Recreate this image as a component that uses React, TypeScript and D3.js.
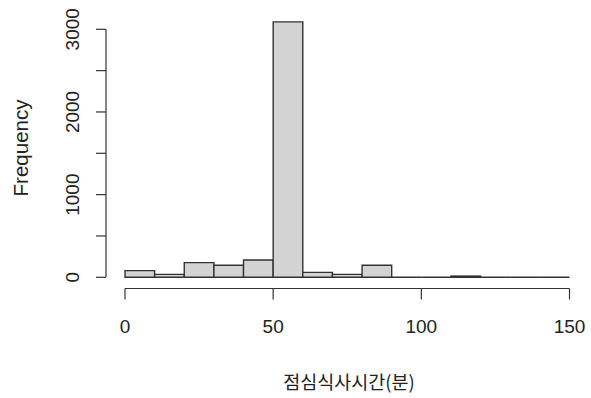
import React from "react";
import * as d3 from "d3";

const binEdges = [0, 10, 20, 30, 40, 50, 60, 70, 80, 90, 100, 110, 120, 130, 140, 150];
const counts = [81, 35, 177, 145, 209, 3090, 60, 35, 145, 0, 0, 15, 0, 0, 0];
const xTicks = [0, 50, 100, 150];
const yTicks = [0, 500, 1000, 1500, 2000, 2500, 3000];
const yLabels = [0, 1000, 2000, 3000];
const xTitle = "점심식사시간(분)";
const yTitle = "Frequency";

export default function App() {
  const W = 591, H = 398;
  const x = d3.scaleLinear().domain([0, 150]).range([125, 569.5]);
  const y = d3.scaleLinear().domain([0, 3000]).range([277.3, 29.3]);
  const axisY = 288.5;
  const axisX = 106;
  const font = "'Liberation Sans', Arial, sans-serif";
  const col = "#333";
  return (
    <svg width={W} height={H} style={{ position: "absolute", left: 0, top: 0, background: "#fff" }}>
      <rect width={W} height={H} fill="#fff" />
      {counts.map((c, i) => {
        const x0 = x(binEdges[i]);
        const x1 = x(binEdges[i + 1]);
        const y0 = y(0);
        const yt = y(c);
        return (
          <path
            key={i}
            d={`M${x0},${y0}V${yt}H${x1}V${y0}Z`}
            fill="#d3d3d3"
            stroke={col}
            strokeWidth={1.4}
          />
        );
      })}
      {/* x axis */}
      <line x1={x(0)} x2={x(150)} y1={axisY} y2={axisY} stroke={col} strokeWidth={1.2} />
      {xTicks.map((t) => (
        <g key={t}>
          <line x1={x(t)} x2={x(t)} y1={axisY} y2={axisY + 11} stroke={col} strokeWidth={1.2} />
          <text x={x(t)} y={axisY + 44.5} textAnchor="middle" fontFamily={font} fontSize={19} fill="#222">
            {t}
          </text>
        </g>
      ))}
      {/* y axis */}
      <line x1={axisX} x2={axisX} y1={y(0)} y2={y(3000)} stroke={col} strokeWidth={1.2} />
      {yTicks.map((t) => (
        <line key={t} x1={axisX} x2={axisX - 10} y1={y(t)} y2={y(t)} stroke={col} strokeWidth={1.2} />
      ))}
      {yLabels.map((t) => (
        <text
          key={t}
          transform={`translate(${axisX - 27},${y(t)}) rotate(-90)`}
          textAnchor="middle"
          fontFamily={font}
          fontSize={19}
          fill="#222"
        >
          {t}
        </text>
      ))}
      <text
        transform={`translate(28,148) rotate(-90)`}
        textAnchor="middle"
        fontFamily={font}
        fontSize={20.5}
        fill="#222"
      >
        {yTitle}
      </text>
      <text x={349} y={389} textAnchor="middle" fontFamily="'Noto Sans CJK KR', sans-serif" fontSize={18.5} fill="#222">
        {xTitle}
      </text>
    </svg>
  );
}
